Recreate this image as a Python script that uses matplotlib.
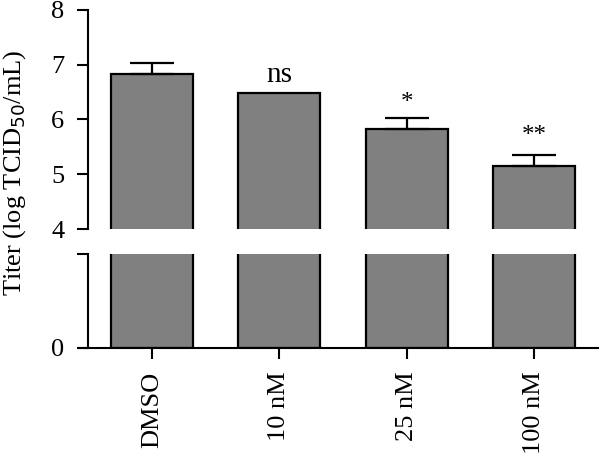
import matplotlib
matplotlib.use("Agg")
import matplotlib.pyplot as plt

plt.rcParams['font.family'] = ['Liberation Serif', 'DejaVu Serif']

groups = ["DMSO", "10 nM", "25 nM", "100 nM"]
titer = [6.83, 6.49, 5.83, 5.15]
sem = [0.20, 0.0, 0.19, 0.20]
marks = ["", "ns", "*", "**"]
mark_y = [0, 6.81, 6.30, 5.70]

fig = plt.figure(figsize=(6, 4.62), dpi=100)
ax_top = fig.add_axes([0.1467, 0.5043, 0.85, 0.4741])
ax_bot = fig.add_axes([0.1467, 0.2468, 0.85, 0.2035])

x = list(range(len(groups)))
for ax in (ax_top, ax_bot):
    ax.bar(x, titer, width=0.643, color="#808080", edgecolor="black", linewidth=1.6, zorder=2)
    ax.set_xlim(-0.5, 3.5)
    for s in ("top", "right"):
        ax.spines[s].set_visible(False)
    ax.spines["left"].set_linewidth(1.5)
    ax.tick_params(axis="both", direction="out", length=8, width=1.5, labelsize=19, pad=9)

# only bars with a visible SEM get an error bar
ex = [i for i in x if sem[i] > 0]
ax_top.errorbar(ex, [titer[i] for i in ex], yerr=[[0] * len(ex), [sem[i] for i in ex]],
                fmt="none", ecolor="black", elinewidth=1.6, capsize=15.5, capthick=1.6, zorder=3)
ax_top.set_ylim(4, 8)
ax_top.set_yticks([4, 5, 6, 7, 8])
ax_top.spines["bottom"].set_visible(False)
ax_top.tick_params(axis="x", bottom=False, labelbottom=False)

for i, m in enumerate(marks):
    if m:
        ax_top.text(i, mark_y[i], m, ha="center", va="center",
                    fontsize=21 if m == "ns" else 18)

ax_bot.set_ylim(0, 4)
ax_bot.set_yticks([0, 4])
ax_bot.set_yticklabels(["0", ""])
ax_bot.spines["bottom"].set_linewidth(1.5)
ax_bot.spines["bottom"].set_bounds(-0.57, 3.5)
ax_bot.set_xticks(x)
ax_bot.set_xticklabels(groups, rotation=90)

fig.text(0.025, 0.626, "Titer (log TCID$_{50}$/mL)", rotation=90,
         ha="center", va="center", fontsize=19)

fig.savefig("out.png", dpi=100)
